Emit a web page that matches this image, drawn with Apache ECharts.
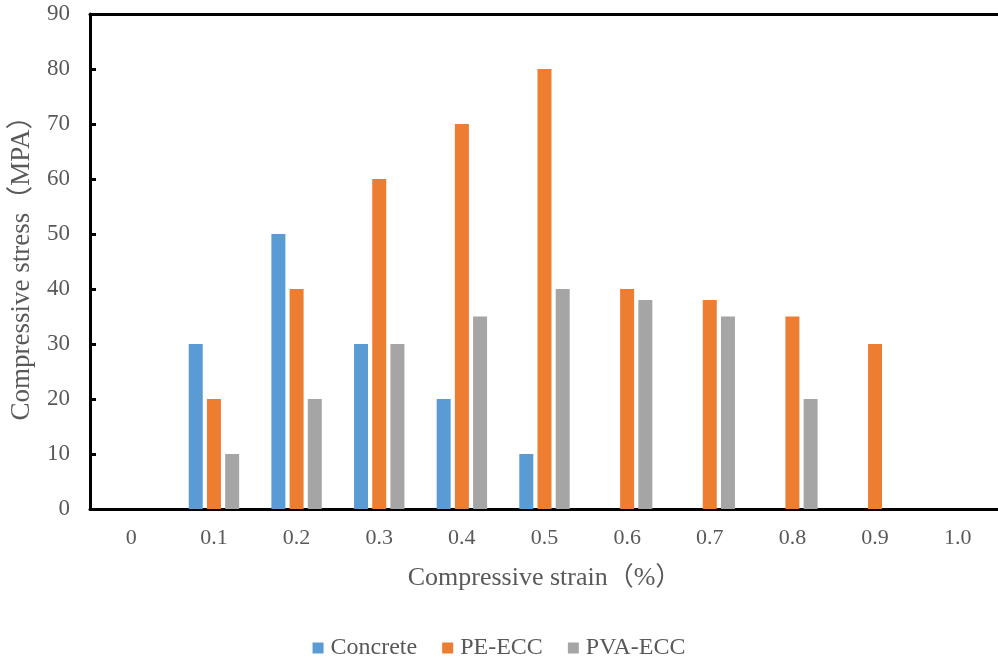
<!DOCTYPE html>
<html>
<head>
<meta charset="utf-8">
<script src="https://cdn.jsdelivr.net/npm/echarts@6/dist/echarts.min.js"></script>
<style>
  html, body { margin: 0; padding: 0; background: #fff; }
  #chart { width: 998px; height: 661px; }
</style>
</head>
<body>
<div id="chart"></div>
<script>
// Strain levels (%) along the horizontal axis
const strainLabels = ['0', '0.1', '0.2', '0.3', '0.4', '0.5', '0.6', '0.7', '0.8', '0.9', '1.0'];
// Compressive stress (MPa) per material; null = no bar
const concrete = [null, 30, 50, 30, 20, 10, null, null, null, null, null];
const peEcc    = [null, 20, 40, 60, 70, 80, 40, 38, 35, 30, null];
const pvaEcc   = [null, 10, 20, 30, 35, 40, 38, 35, 20, null, null];
const yTicks = { min: 0, max: 90, interval: 10 };

const FONT = "'Liberation Serif', 'Times New Roman', 'Noto Sans CJK SC', serif";
const TXT = '#595959';

const chart = echarts.init(document.getElementById('chart'));

function barSeries(name, data, color) {
  return {
    name: name,
    type: 'bar',
    data: data,
    barWidth: 14,
    barGap: '30%',
    itemStyle: { color: color }
  };
}

chart.setOption({
  animation: false,
  textStyle: { fontFamily: FONT },
  grid: { left: 90, right: -1, top: 14, bottom: 152, containLabel: false, outerBoundsMode: 'none' },
  legend: {
    top: 631,
    left: 'center',
    itemWidth: 11,
    itemHeight: 11,
    itemGap: 25,
    icon: 'rect',
    textStyle: { fontFamily: FONT, fontSize: 24, color: TXT, padding: [0, 0, 0, 2] },
    data: ['Concrete', 'PE-ECC', 'PVA-ECC']
  },
  xAxis: [{
    type: 'category',
    data: strainLabels,
    name: 'Compressive strain（%）',
    nameLocation: 'middle',
    nameGap: 56,
    nameTextStyle: { fontFamily: FONT, fontSize: 26, color: TXT },
    axisLine: { lineStyle: { color: '#000', width: 3 } },
    axisTick: { show: false },
    axisLabel: { fontFamily: FONT, fontSize: 22, color: TXT, margin: 18 }
  }, {
    type: 'category',
    data: strainLabels,
    position: 'top',
    axisLine: { lineStyle: { color: '#000', width: 3 } },
    axisTick: { show: false },
    axisLabel: { show: false }
  }],
  yAxis: {
    type: 'value',
    min: yTicks.min,
    max: yTicks.max,
    interval: yTicks.interval,
    name: 'Compressive stress（MPA）',
    nameLocation: 'middle',
    nameGap: 55,
    nameTextStyle: { fontFamily: FONT, fontSize: 27, color: TXT },
    axisLine: { show: true, lineStyle: { color: '#000', width: 3 } },
    axisTick: { show: true, inside: true, length: 6, lineStyle: { color: '#000', width: 3 } },
    axisLabel: { fontFamily: FONT, fontSize: 23, color: TXT, margin: 20 },
    splitLine: { show: false }
  },
  series: [
    barSeries('Concrete', concrete, '#5b9bd5'),
    barSeries('PE-ECC', peEcc, '#ed7d31'),
    barSeries('PVA-ECC', pvaEcc, '#a5a5a5')
  ]
});
</script>
</body>
</html>
